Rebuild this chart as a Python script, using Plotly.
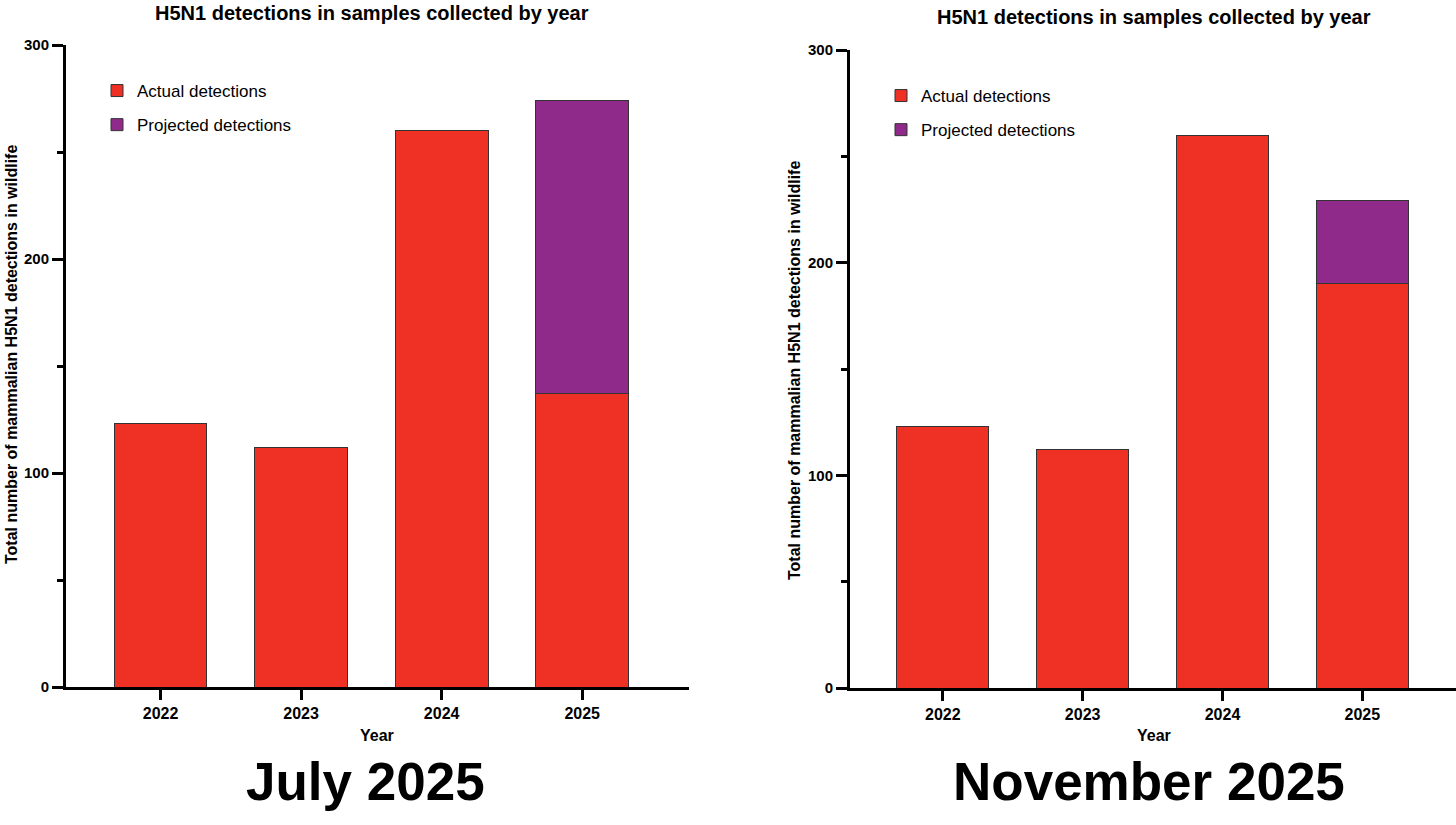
import plotly.graph_objects as go

years = ["2022", "2023", "2024", "2025"]

# July 2025 snapshot
july_actual = [123, 112, 260, 137]
july_projected = [0, 0, 0, 137]

# November 2025 snapshot
nov_actual = [123, 112, 260, 190]
nov_projected = [0, 0, 0, 39]

RED = "#EE3124"
PURPLE = "#8F2A8B"
FONT = "Liberation Sans"

W, H = 1456, 825


def px(x):
    return x / W


def py(y):
    return 1 - y / H


fig = go.Figure()


def add_pair(actual, projected, xa, ya, legend):
    fig.add_trace(go.Bar(x=years, y=actual, name="Actual detections",
                         marker=dict(color=RED, line=dict(color="#333333", width=1)),
                         xaxis=xa, yaxis=ya, legend=legend, legendgroup="a",
                         width=0.66))
    fig.add_trace(go.Bar(x=years, y=projected, name="Projected detections",
                         marker=dict(color=PURPLE, line=dict(color="#333333", width=1)),
                         xaxis=xa, yaxis=ya, legend=legend, legendgroup="p",
                         width=0.66))


add_pair(july_actual, july_projected, "x", "y", "legend")
add_pair(nov_actual, nov_projected, "x2", "y2", "legend2")

xcommon = dict(type="category", showline=True, linecolor="black", linewidth=3,
               ticks="outside", ticklen=10, tickwidth=3, tickcolor="black",
               tickfont=dict(family=FONT, size=16, color="black", weight="bold"),
               showgrid=False, zeroline=False, fixedrange=True, automargin=False)
ycommon = dict(range=[0, 300], tickvals=[0, 100, 200, 300], showline=True,
               linecolor="black", linewidth=3, ticks="outside", ticklen=11,
               tickwidth=3, tickcolor="black",
               minor=dict(dtick=50, ticks="outside", ticklen=6, tickwidth=3,
                          tickcolor="black", showgrid=False),
               tickfont=dict(family=FONT, size=15, color="black", weight="bold"),
               showgrid=False, zeroline=False, fixedrange=True, automargin=False)

legend_common = dict(font=dict(family=FONT, size=17, color="black"),
                     bgcolor="rgba(0,0,0,0)", traceorder="grouped",
                     xanchor="left", yanchor="top", itemwidth=30,
                     tracegroupgap=9)

fig.update_layout(
    width=W, height=H,
    margin=dict(l=0, r=0, t=0, b=0, autoexpand=False),
    paper_bgcolor="white", plot_bgcolor="white",
    barmode="stack",
    font=dict(family=FONT, color="black"),
    xaxis=dict(domain=[px(66), px(689)], range=[-0.673, 3.76], anchor="y", **xcommon),
    yaxis=dict(domain=[py(687), py(45)], anchor="x", **ycommon),
    xaxis2=dict(domain=[px(850), 1.0], range=[-0.664, 3.67], anchor="y2", **xcommon),
    yaxis2=dict(domain=[py(688), py(50)], anchor="x2", **ycommon),
    legend=dict(x=px(97), y=py(73), **legend_common),
    legend2=dict(x=px(881), y=py(78), **legend_common),
    showlegend=True,
)

title = "H5N1 detections in samples collected by year"
ytitle = "Total number of mammalian H5N1 detections in wildlife"

annotations = [
    dict(text=title, x=px(372), y=1.0, yanchor="top", font=dict(size=20, weight="bold")),
    dict(text=title, x=px(1154), y=py(17), font=dict(size=20, weight="bold")),
    dict(text=ytitle, x=px(11), y=py(355), textangle=-90,
         font=dict(size=16, weight="bold")),
    dict(text=ytitle, x=px(794), y=py(370), textangle=-90,
         font=dict(size=16, weight="bold")),
    dict(text="Year", x=px(377), y=py(735), font=dict(size=16, weight="bold")),
    dict(text="Year", x=px(1154), y=py(735), font=dict(size=16, weight="bold")),
    dict(text="July 2025", x=px(365), y=py(781), font=dict(size=53, weight="bold")),
    dict(text="November 2025", x=px(1149), y=py(781), font=dict(size=53, weight="bold")),
]
for a in annotations:
    a.setdefault("yanchor", "middle")
    a.update(xref="paper", yref="paper", showarrow=False, xanchor="center")
    a["font"].update(family=FONT, color="black")
fig.update_layout(annotations=annotations)

# drop the default page margin so the figure sits at the window's corner
fig.write_html("out.html", config={"displayModeBar": False},
               post_script="document.body.style.margin='0px';")
